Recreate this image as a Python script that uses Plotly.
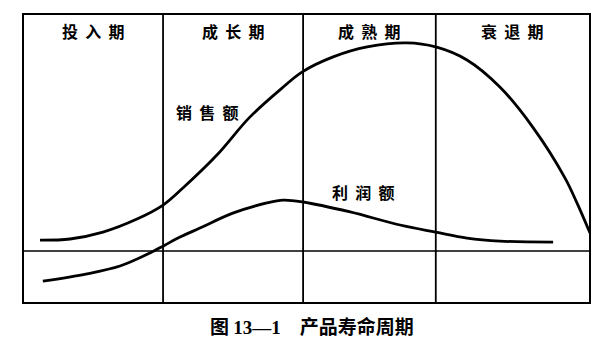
import plotly.graph_objects as go

# Time axis (0-100) and curve values
sales_t = [3.0, 8.3, 14.1, 20.1, 24.7, 28.2, 34.2, 40.0, 45.9, 49.2, 54.7, 60.7,
           67.7, 72.8, 78.3, 84.1, 89.9, 95.6, 97.7, 100.0]
sales_v = [4.6, 5.1, 8.0, 13.5, 19.4, 26.6, 40.5, 56.5, 69.2, 75.5, 81.9, 86.1,
           87.8, 86.1, 80.6, 69.2, 52.3, 30.8, 20.3, 7.6]

profit_t = [3.5, 11.3, 17.1, 22.4, 25.0, 27.7, 31.2, 37.0, 43.0, 45.9, 49.4, 57.7,
            66.5, 72.8, 78.3, 84.1, 93.5]
profit_v = [-12.7, -9.6, -6.3, -0.8, 2.5, 5.9, 9.7, 16.0, 20.3, 21.5, 20.7, 16.5,
            11.0, 8.0, 5.5, 4.2, 3.8]

stage_names = ["投入期", "成长期", "成熟期", "衰退期"]
stage_bounds = [0, 24.7, 49.4, 72.8, 100]

curve_labels = ["销售额", "利润额"]
curve_label_pos = [(32.6, 58.6), (60.1, 24.9)]

caption_fig = "图"
caption_num = "13—1"
caption_title = "产品寿命周期"

X_RANGE = [0, 100]
Y_RANGE = [-21.9, 100]

CJK = "Noto Sans CJK SC"


def spaced(s):
    return "  ".join(list(s))


fig = go.Figure()
for tx, ty in [(sales_t, sales_v), (profit_t, profit_v)]:
    fig.add_trace(go.Scatter(x=tx, y=ty, mode="lines",
                             line=dict(color="black", width=2.8, shape="spline", smoothing=1.0),
                             hoverinfo="skip", showlegend=False))

# frame
fig.add_shape(type="rect", xref="paper", yref="paper", x0=0, y0=0, x1=1, y1=1,
              line=dict(color="black", width=2))
# stage dividers
for b in stage_bounds[1:-1]:
    fig.add_shape(type="line", xref="x", yref="paper", x0=b, x1=b, y0=0, y1=1,
                  line=dict(color="black", width=1.8))
# zero line
fig.add_shape(type="line", xref="paper", yref="y", x0=0, x1=1, y0=0, y1=0,
              line=dict(color="black", width=1.5))

for i, name in enumerate(stage_names):
    xc = (stage_bounds[i] + stage_bounds[i + 1]) / 2
    fig.add_annotation(x=xc, y=92.8, text=f"<b>{spaced(name)}</b>", showarrow=False,
                       font=dict(family=CJK, size=16, color="black"))

for lab, (lx, ly) in zip(curve_labels, curve_label_pos):
    fig.add_annotation(x=lx, y=ly, text=f"<b>{spaced(lab)}</b>", showarrow=False,
                       font=dict(family=CJK, size=16, color="black"))

fig.add_annotation(x=-0.9, y=0, xanchor="right", text="<b>0</b>", showarrow=False,
                   font=dict(family="Liberation Serif", size=17, color="black"))

cap = (f"<b>{caption_fig} <span style='font-family:Liberation Serif'>{caption_num}</span>"
       f"　{caption_title}</b>")
fig.add_annotation(xref="paper", yref="paper", x=0.51, y=-0.13, text=cap,
                   showarrow=False, font=dict(family=CJK, size=19, color="black"))

fig.update_xaxes(range=X_RANGE, visible=False, showgrid=False, zeroline=False)
fig.update_yaxes(range=Y_RANGE, visible=False, showgrid=False, zeroline=False)

fig.update_layout(width=613, height=351, margin=dict(l=23, r=23, t=14, b=48),
                  paper_bgcolor="white", plot_bgcolor="white")

fig.write_html("out.html")
